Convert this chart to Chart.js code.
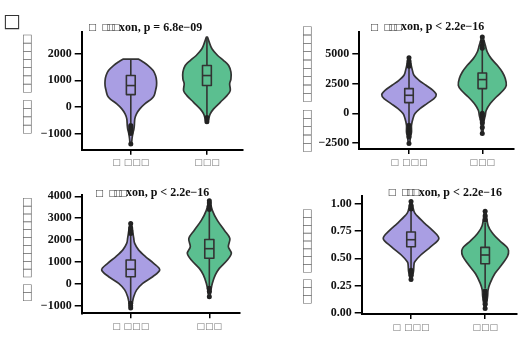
<!DOCTYPE html>
<html><head><meta charset="utf-8">
<script src="https://cdn.jsdelivr.net/npm/chart.js@4.4.1/dist/chart.umd.min.js"></script>
<style>
html,body{margin:0;padding:0;background:#fff;}
#wrap{position:relative;width:521px;height:337px;overflow:hidden;background:#fff;}
#wrap canvas{position:absolute;left:0;top:0;}
</style></head><body>
<div id="wrap">
<canvas id="c1" width="521" height="337"></canvas>
<canvas id="c2" width="521" height="337"></canvas>
<canvas id="c3" width="521" height="337"></canvas>
<canvas id="c4" width="521" height="337"></canvas>
</div>
<script>
// ---------- DATA ----------
const groupLabels = ['□ □□□', '□□□'];
const titleText1 = 'xon, p = 6.8e−09';
const titleText2 = 'xon, p < 2.2e−16';
const yTitle1 = '□□□□ □□□□□□□';
const yTitle2 = '□□□□□ □□□□□□□□□';
const yTitle3 = '□□ □□□□□□□□□□';
const yTitle4 = '□□□ □□□□□□□□';

// Panel 1
const p1YTicks = [-1000, 0, 1000, 2000];
const p1YLabels = ['−1000', '0', '1000', '2000'];
const p1LevA = [-1400,-1200,-1000,-850,-706,-453,-264,-75,113,302,426,615,804,992,1181,1370,1558,1700,1800];
const p1DenA = [0.8,1.2,2,3,3.5,4,5.7,9,14,20.7,23.3,24.7,25.7,25.7,24.7,22.3,17.3,12,7.5];
const p1LevB = [-555,-453,-264,-75,174,426,615,868,1057,1306,1558,1747,1936,2189,2438,2626];
const p1DenB = [1,1.7,3.3,6.7,13.3,20,23.3,22.7,24,24,21.7,16.7,10.7,5,2.3,0.6];
const p1BoxA = [-620, 464, 804, 1181, 1800];   // whisker low, q1, median, q3, whisker high
const p1BoxB = [-330, 804, 1181, 1558, 2626];
const p1OutA = [-700,-760,-820,-880,-950,-1000,-1400];
const p1OutB = [-400,-480,-555];

// Panel 2
const p2YTicks = [-2500, 0, 2500, 5000];
const p2YLabels = ['−2500', '0', '2500', '5000'];
const p2LevA = [-2542,-2000,-1569,-1007,-445,-25,394,814,1233,1569,1930,2349,2769,3188,3750,4200,4673];
const p2DenA = [0.6,1.5,2.5,2.5,4,6,11,18,25,27.3,24,17,10,5,3,1.8,0.6];
const p2LevB = [-1703,-1200,-730,-168,252,814,1368,1930,2349,2912,3465,4027,4589,5145,5705,6401];
const p2DenB = [0.6,1,1.5,3,4,8,14,21,24,23,20,15,9,5,3,0.6];
const p2BoxA = [-870, 897, 1510, 2072, 3830];
const p2BoxB = [100, 2072, 2828, 3381, 5340];
const p2OutA = [3950,4150,4400,4673,-1000,-1250,-1450,-1550,-1700,-2000,-2542];
const p2OutB = [5450,5700,6000,6401,0,-150,-300,-500,-800,-1200,-1703];

// Panel 3
const p3YTicks = [-1000, 0, 1000, 2000, 3000, 4000];
const p3YLabels = ['−1000', '0', '1000', '2000', '3000', '4000'];
const p3LevA = [-1100,-900,-580,-270,30,330,640,940,1240,1545,1850,2100,2400,2760];
const p3DenA = [0.8,1.5,3,6,12,22,29,23,15,8,4,3,2,0.8];
const p3LevB = [-580,-300,30,410,710,1090,1400,1700,2080,2450,2900,3360,3800];
const p3DenB = [0.8,1.5,3,6,10,18,22,19,20.5,15,8,3,0.8];
const p3BoxA = [-810, 330, 670, 1090, 2230];
const p3BoxB = [-120, 1170, 1610, 2030, 3320];
const p3OutA = [2300,2380,2450,2550,2760,-880,-1000,-1100];
const p3OutB = [3400,3550,3700,3800,-200,-350,-580];

// Panel 4
const p4YTicks = [0, 0.25, 0.5, 0.75, 1];
const p4YLabels = ['0.00', '0.25', '0.50', '0.75', '1.00'];
const p4LevA = [0.305,0.38,0.44,0.47,0.53,0.605,0.68,0.755,0.82,0.89,0.93,1.02];
const p4DenA = [0.8,2.5,3,4,10,20,28.5,22,14,6,3,0.8];
const p4LevB = [0.04,0.15,0.21,0.27,0.36,0.44,0.52,0.57,0.605,0.66,0.725,0.8,0.93];
const p4DenB = [0.8,2.5,3,5,10,17,23,24,22,15,8,3,0.8];
const p4BoxA = [0.40, 0.605, 0.67, 0.74, 0.94];
const p4BoxB = [0.225, 0.45, 0.53, 0.60, 0.825];
const p4OutA = [0.95,0.98,1.02,0.39,0.37,0.345,0.305];
const p4OutB = [0.85,0.89,0.93,0.20,0.17,0.15,0.12,0.08,0.04];

// ---------- STYLE / LAYOUT ----------
const W = 521, H = 337, YW = 60, XH = 25;
const COL_A = '#A99EE3', COL_B = '#5BBF90', EDGE = '#333333';
const panels = [
  {id:'c1', area:{l:81.7,t:32,r:242.7,b:149.7}, xMin:0.355, xMax:2.47, yMin:-1610, yMax:2820, halfW:0.338,
   yTicks:p1YTicks, yLabels:p1YLabels, levA:p1LevA, denA:p1DenA, levB:p1LevB, denB:p1DenB, boxA:p1BoxA, boxB:p1BoxB, outA:p1OutA, outB:p1OutB,
   title:titleText1, tx:88, ty:27.5, yTitle:yTitle1, ytx:27.2, ytb:133.3, yts:8.19, tag:true},
  {id:'c2', area:{l:359.3,t:31.7,r:513.3,b:149}, xMin:0.322, xMax:2.423, yMin:-3000, yMax:6850, halfW:0.372,
   yTicks:p2YTicks, yLabels:p2YLabels, levA:p2LevA, denA:p2DenA, levB:p2LevB, denB:p2DenB, boxA:p2BoxA, boxB:p2BoxB, outA:p2OutA, outB:p2OutB,
   title:titleText2, tx:370, ty:27.3, yTitle:yTitle2, ytx:306.7, ytb:151.7, yts:8.33},
  {id:'c3', area:{l:81.7,t:195,r:240,b:313.3}, xMin:0.377, xMax:2.39, yMin:-1340, yMax:4060, halfW:0.369,
   yTicks:p3YTicks, yLabels:p3YLabels, levA:p3LevA, denA:p3DenA, levB:p3LevB, denB:p3DenB, boxA:p3BoxA, boxB:p3BoxB, outA:p3OutA, outB:p3OutB,
   title:titleText2, tx:95, ty:193.3, yTitle:yTitle3, ytx:27, ytb:300.7, yts:7.88},
  {id:'c4', area:{l:361.7,t:196,r:521,b:314}, xMin:0.334, xMax:2.43, yMin:-0.01, yMax:1.07, halfW:0.375,
   yTicks:p4YTicks, yLabels:p4YLabels, levA:p4LevA, denA:p4DenA, levB:p4LevB, denB:p4DenB, boxA:p4BoxA, boxB:p4BoxB, outA:p4OutA, outB:p4OutB,
   title:titleText2, tx:387.7, ty:192.7, yTitle:yTitle4, ytx:306.7, ytb:303.3, yts:7.78}
];

function spline(ctx, pts) {
  for (let i = 0; i < pts.length - 1; i++) {
    const p0 = pts[i - 1] || pts[i], p1 = pts[i], p2 = pts[i + 1], p3 = pts[i + 2] || p2;
    ctx.bezierCurveTo(p1.x + (p2.x - p0.x) / 6, p1.y + (p2.y - p0.y) / 6,
                      p2.x - (p3.x - p1.x) / 6, p2.y - (p3.y - p1.y) / 6, p2.x, p2.y);
  }
}

function drawViolin(ctx, xs, ys, c, lev, den, maxD, halfW, fill) {
  const right = lev.map((v, i) => ({x: xs.getPixelForValue(c + den[i] / maxD * halfW), y: ys.getPixelForValue(v)}));
  const left = lev.map((v, i) => ({x: xs.getPixelForValue(c - den[i] / maxD * halfW), y: ys.getPixelForValue(v)})).reverse();
  ctx.beginPath();
  ctx.moveTo(right[0].x, right[0].y);
  spline(ctx, right);
  ctx.lineTo(left[0].x, left[0].y);
  spline(ctx, left);
  ctx.closePath();
  ctx.fillStyle = fill; ctx.fill();
  ctx.lineWidth = 1.7; ctx.strokeStyle = EDGE; ctx.lineJoin = 'round'; ctx.stroke();
}

function drawBox(ctx, xs, ys, c, b) {
  const bw = 0.058;
  const xl = xs.getPixelForValue(c - bw), xr = xs.getPixelForValue(c + bw), xc = xs.getPixelForValue(c);
  const [wlo, q1, md, q3, whi] = b.map(v => ys.getPixelForValue(v));
  ctx.strokeStyle = EDGE; ctx.lineWidth = 1.6;
  ctx.beginPath(); ctx.moveTo(xc, wlo); ctx.lineTo(xc, q1); ctx.moveTo(xc, q3); ctx.lineTo(xc, whi); ctx.stroke();
  ctx.beginPath(); ctx.rect(xl, q3, xr - xl, q1 - q3); ctx.stroke();
  ctx.beginPath(); ctx.moveTo(xl, md); ctx.lineTo(xr, md); ctx.stroke();
}

function makePlugin(P) {
  return {
    id: 'violin_' + P.id,
    beforeDatasetsDraw(chart) {
      const {ctx, scales} = chart;
      const xs = scales.x, ys = scales.y;
      const maxD = Math.max(...P.denA, ...P.denB);
      ctx.save();
      drawViolin(ctx, xs, ys, 1, P.levA, P.denA, maxD, P.halfW, COL_A);
      drawViolin(ctx, xs, ys, 2, P.levB, P.denB, maxD, P.halfW, COL_B);
      drawBox(ctx, xs, ys, 1, P.boxA);
      drawBox(ctx, xs, ys, 2, P.boxB);
      ctx.restore();
    },
    afterDraw(chart) {
      const ctx = chart.ctx;
      ctx.save();
      // title (tofu prefix + bold text)
      ctx.textBaseline = 'middle'; ctx.textAlign = 'left';
      ctx.fillStyle = '#444'; ctx.font = '9.5px "DejaVu Sans"';
      ctx.fillText('□', P.tx, P.ty);
      [13.5, 18.5, 23.5].forEach(dx => ctx.fillText('□', P.tx + dx, P.ty));
      ctx.fillStyle = '#111'; ctx.font = 'bold 12px "Liberation Serif"';
      ctx.fillText(P.title, P.tx + 31, P.ty);
      // y title (rotated tofu)
      ctx.fillStyle = '#666'; ctx.font = '11px "DejaVu Sans"'; ctx.textAlign = 'center';
      Array.from(P.yTitle).forEach((ch, i) => {
        if (ch === ' ') return;
        ctx.save();
        ctx.translate(P.ytx, P.ytb - P.yts * (i + 0.5));
        ctx.rotate(-Math.PI / 2);
        ctx.fillText(ch, 0, 0);
        ctx.restore();
      });
      if (P.tag) {
        ctx.fillStyle = '#333'; ctx.font = '19px "DejaVu Sans"'; ctx.textAlign = 'left';
        ctx.fillText('□', 3, 22);
      }
      ctx.restore();
    }
  };
}

function makeChart(P) {
  const pt = {pointRadius: 2.5, pointBackgroundColor: '#222', pointBorderWidth: 0, pointBorderColor: '#222', showLine: false};
  return new Chart(document.getElementById(P.id), {
    type: 'scatter',
    data: {datasets: [
      Object.assign({data: P.outA.map(v => ({x: 1, y: v}))}, pt),
      Object.assign({data: P.outB.map(v => ({x: 2, y: v}))}, pt)
    ]},
    options: {
      responsive: false, animation: false, events: [],
      layout: {padding: {left: P.area.l - YW, top: P.area.t, right: W - P.area.r, bottom: H - P.area.b - XH}},
      plugins: {legend: {display: false}, tooltip: {enabled: false}, title: {display: false}},
      scales: {
        x: {
          type: 'linear', min: P.xMin, max: P.xMax,
          afterBuildTicks: s => { s.ticks = [{value: 1}, {value: 2}]; },
          afterFit: s => { s.height = XH; },
          ticks: {callback: (v, i) => groupLabels[i], autoSkip: false, maxRotation: 0,
                  font: {family: 'DejaVu Sans', size: 9}, color: '#777', padding: 3},
          grid: {display: true, drawOnChartArea: false, drawTicks: true, tickLength: 5, color: '#000', lineWidth: 1.5},
          border: {display: true, color: '#000', width: 2}
        },
        y: {
          type: 'linear', min: P.yMin, max: P.yMax,
          afterBuildTicks: s => { s.ticks = P.yTicks.map(v => ({value: v})); },
          afterFit: s => { s.width = YW; },
          ticks: {callback: (v, i) => P.yLabels[i], autoSkip: false,
                  font: {family: 'Liberation Serif', size: 12, weight: 'bold'}, color: '#111', padding: 3},
          grid: {display: true, drawOnChartArea: false, drawTicks: true, tickLength: 7, color: '#000', lineWidth: 1.5},
          border: {display: true, color: '#000', width: 2}
        }
      }
    },
    plugins: [makePlugin(P)]
  });
}

panels.forEach(makeChart);
</script>
</body></html>
